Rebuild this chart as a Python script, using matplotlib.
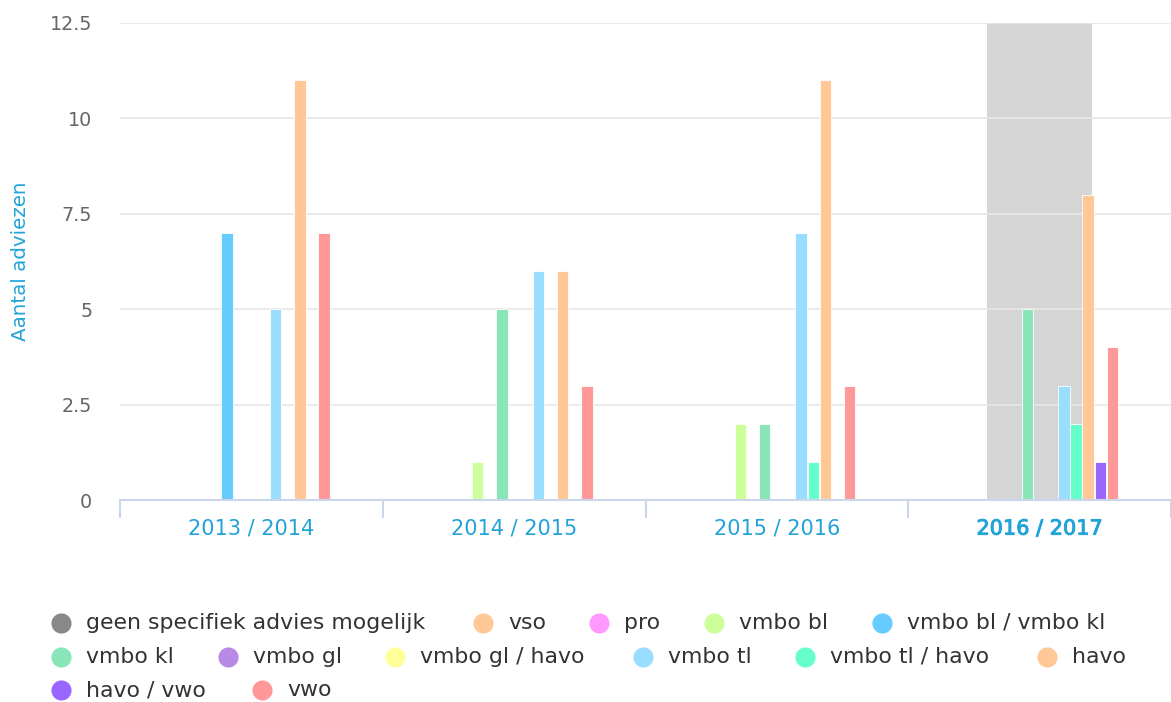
import matplotlib
matplotlib.use("Agg")
import matplotlib.pyplot as plt
import matplotlib.patheffects as pe
import numpy as np

# --- data ---
years = ["2013 / 2014", "2014 / 2015", "2015 / 2016", "2016 / 2017"]
series_names = ["geen specifiek advies mogelijk", "vso", "pro", "vmbo bl",
                "vmbo bl / vmbo kl", "vmbo kl", "vmbo gl", "vmbo gl / havo",
                "vmbo tl", "vmbo tl / havo", "havo", "havo / vwo", "vwo"]
series_colors = ["#888888", "#ffc896", "#ff99ff", "#ccff99",
                 "#66ccff", "#8ae6b8", "#b88ae6", "#ffff99",
                 "#99ddff", "#66ffcc", "#ffc896", "#9966ff", "#ff9999"]

geen = [0, 0, 0, 0]
vso = [0, 0, 0, 0]
pro = [0, 0, 0, 0]
vmbo_bl = [0, 1, 2, 0]
vmbo_bl_kl = [7, 0, 0, 0]
vmbo_kl = [0, 5, 2, 5]
vmbo_gl = [0, 0, 0, 0]
vmbo_gl_havo = [0, 0, 0, 0]
vmbo_tl = [5, 6, 7, 3]
vmbo_tl_havo = [0, 0, 1, 2]
havo = [11, 6, 11, 8]
havo_vwo = [0, 0, 0, 1]
vwo = [7, 3, 3, 4]

values = [geen, vso, pro, vmbo_bl, vmbo_bl_kl, vmbo_kl, vmbo_gl,
          vmbo_gl_havo, vmbo_tl, vmbo_tl_havo, havo, havo_vwo, vwo]

# --- figure ---
W, H = 1171, 702
fig = plt.figure(figsize=(W / 100, H / 100), dpi=100)
ax = fig.add_axes([120 / W, 1 - 500 / H, (W - 120) / W, (500 - 23) / H])

x = np.arange(len(years))
n = len(series_names)
slot = 0.6 / n
for i, (vals, col) in enumerate(zip(values, series_colors)):
    ax.bar(x + (i - (n - 1) / 2) * slot, vals, width=slot * 0.93,
           color=col, edgecolor="white", linewidth=0.6, zorder=3)

# highlighted season
ax.axvspan(2.8, 3.2, color="#d5d5d5", zorder=0, lw=0)

ax.set_xlim(-0.5, len(years) - 0.5)
ax.set_ylim(0, 12.5)
ax.set_yticks([0, 2.5, 5, 7.5, 10, 12.5])
ax.set_yticklabels(["0", "2.5", "5", "7.5", "10", "12.5"])
ax.yaxis.grid(True, color="#e6e6e6", lw=1.2, zorder=1)
ax.set_axisbelow(False)
for s in ["top", "right", "left"]:
    ax.spines[s].set_visible(False)
ax.spines["bottom"].set_color("#ccd6eb")
ax.spines["bottom"].set_linewidth(1.5)
ax.spines["bottom"].set_zorder(4)
ax.tick_params(axis="y", length=0, labelsize=13.8, labelcolor="#666666", pad=20)

ax.set_xticks(np.arange(-0.5, len(years), 1.0))
ax.set_xticklabels([])
ax.tick_params(axis="x", length=13, width=1.5, color="#ccd6eb", direction="out")
for i, yr in enumerate(years):
    t = ax.text(i, -0.75, yr, ha="center", va="center", fontsize=15,
                color="#21a3d8")
    if i == 3:  # selected season is drawn a bit heavier
        t.set_path_effects([pe.withStroke(linewidth=0.7, foreground="#21a3d8")])

fig.text(21 / W, 1 - 261 / H, "Aantal adviezen", rotation=90, ha="center",
         va="center", fontsize=14.3, color="#21a3d8")

# --- legend (flows like the original) ---
leg = fig.add_axes([0, 0, 1, 1], facecolor="none")
leg.set_xlim(0, W)
leg.set_ylim(H, 0)
leg.axis("off")
leg_pos = [(61, 623), (483, 623), (599, 623), (714, 623), (882, 623),
           (61, 657), (228, 657), (395, 657), (643, 657), (805, 657), (1047, 657),
           (61, 690), (262, 690)]
for name, col, (mx, my) in zip(series_names, series_colors, leg_pos):
    leg.scatter([mx], [my], s=210, color=col, lw=0)
    leg.text(mx + 25, my, name, ha="left", va="center", fontsize=15.8,
             color="#333333")

fig.savefig("out.png", dpi=100)
